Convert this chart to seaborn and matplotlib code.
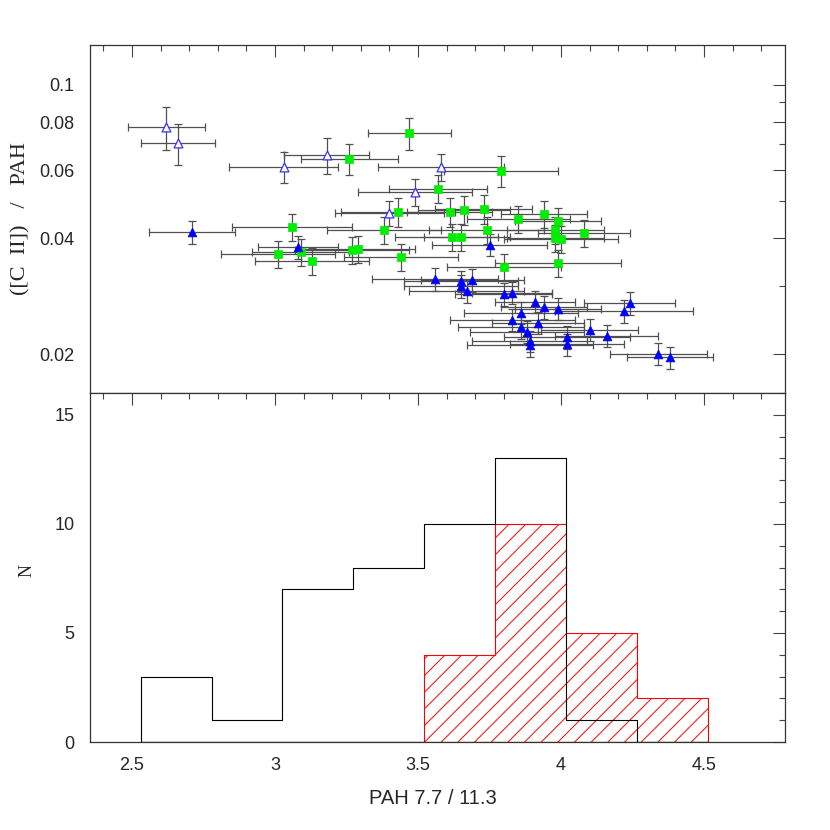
import numpy as np
import pandas as pd
import matplotlib
matplotlib.use("Agg")
import matplotlib.pyplot as plt
from matplotlib.ticker import NullFormatter, FixedLocator
import seaborn as sns

# open triangles
open_x = [2.62, 2.66, 3.03, 3.18, 3.58, 3.49, 3.40]
open_y = [0.0777, 0.0706, 0.0612, 0.0657, 0.0612, 0.0527, 0.0465]
open_xerr = [0.135, 0.13, 0.19, 0.15, 0.22, 0.20, 0.19]
open_yerr = [0.0100, 0.0086, 0.0057, 0.0071, 0.0050, 0.0042, 0.0035]

# filled triangles
fill_x = [2.71, 3.08, 3.75, 3.56, 3.65, 3.69, 3.65, 3.67, 3.80, 3.83, 3.91, 3.94, 3.99, 4.24,
          4.22, 3.86, 3.83, 3.92, 3.86, 3.88, 3.89, 3.89, 4.02, 4.02, 4.10, 4.16, 4.34, 4.38]
fill_y = [0.0415, 0.0379, 0.0384, 0.0313, 0.0309, 0.0311, 0.0300, 0.0292, 0.0286, 0.0288, 0.0273,
          0.0265, 0.0262, 0.0271, 0.0259, 0.0256, 0.0245, 0.0241, 0.0235, 0.0228, 0.0216, 0.0211,
          0.0221, 0.0212, 0.0231, 0.0223, 0.0200, 0.0196]
fill_xerr = [0.15, 0.14, 0.20, 0.22, 0.20, 0.18, 0.20, 0.20, 0.17, 0.14, 0.14, 0.15, 0.15, 0.16,
             0.24, 0.20, 0.22, 0.16, 0.22, 0.20, 0.20, 0.22, 0.22, 0.20, 0.17, 0.18, 0.17, 0.15]
fill_yerr = [0.0029, 0.0027, 0.0025, 0.0022, 0.0020, 0.0021, 0.0020, 0.0020, 0.0019, 0.0019, 0.0018,
             0.0018, 0.0017, 0.0018, 0.0018, 0.0017, 0.0016, 0.0016, 0.0016, 0.0015, 0.0014, 0.0014,
             0.0015, 0.0014, 0.0015, 0.0015, 0.0013, 0.0013]

# green squares
green_x = [3.47, 3.26, 3.79, 3.57, 3.43, 3.61, 3.66, 3.73, 3.85, 3.94, 3.99, 3.38, 3.62, 3.65,
           3.74, 3.98, 3.98, 4.00, 4.08, 3.06, 3.01, 3.09, 3.13, 3.27, 3.29, 3.44, 3.80, 3.99]
green_y = [0.0750, 0.0642, 0.0598, 0.0537, 0.0468, 0.0468, 0.0473, 0.0476, 0.0448, 0.0462, 0.0443,
           0.0420, 0.0403, 0.0403, 0.0420, 0.0420, 0.0400, 0.0398, 0.0412, 0.0427, 0.0364, 0.0368,
           0.0349, 0.0373, 0.0375, 0.0357, 0.0337, 0.0345]
green_xerr = [0.145, 0.17, 0.20, 0.17, 0.20, 0.15, 0.16, 0.17, 0.18, 0.15, 0.15, 0.20, 0.20, 0.13,
              0.20, 0.17, 0.17, 0.20, 0.16, 0.21, 0.20, 0.17, 0.20, 0.20, 0.20, 0.20, 0.20, 0.22]
green_yerr = [0.0072, 0.0058, 0.0055, 0.0045, 0.0040, 0.0040, 0.0040, 0.0040, 0.0036, 0.0038, 0.0036,
              0.0035, 0.0032, 0.0032, 0.0034, 0.0034, 0.0032, 0.0032, 0.0033, 0.0035, 0.0029, 0.0030,
              0.0028, 0.0030, 0.0030, 0.0029, 0.0027, 0.0028]

# histograms
bin_edges = [2.53, 2.778, 3.026, 3.274, 3.522, 3.77, 4.018, 4.266, 4.514]
all_counts = [3, 1, 7, 8, 10, 13, 1, 0]
red_counts = [0, 0, 0, 0, 4, 10, 5, 2]

x_ticks = [2.5, 3, 3.5, 4, 4.5]
x_tick_labels = ["2.5", "3", "3.5", "4", "4.5"]
y_ticks_top = [0.02, 0.04, 0.06, 0.08, 0.1]
y_tick_labels_top = ["0.02", "0.04", "0.06", "0.08", "0.1"]
y_ticks_bot = [0, 5, 10, 15]


def style_axis(ax):
    """inward ticks on all four sides"""
    ax.tick_params(which="both", direction="in", top=True, right=True,
                   color="#444444", width=0.8, labelsize=13, pad=11)
    ax.tick_params(which="major", length=8.6)
    ax.tick_params(which="minor", length=4.3)
    for spine in ax.spines.values():
        spine.set_color("#333333")
        spine.set_linewidth(0.9)
    for lab in ax.get_xticklabels() + ax.get_yticklabels():
        lab.set_family("Liberation Sans")


sns.set_style("white")
plt.rcParams["font.family"] = ["Liberation Sans", "DejaVu Sans"]
plt.rcParams["hatch.linewidth"] = 0.7

fig = plt.figure(figsize=(8.3, 8.3), dpi=100)
ax1 = fig.add_axes([0.1084, 0.5265, 0.8374, 0.4193])
ax2 = fig.add_axes([0.1084, 0.106, 0.8374, 0.4205], sharex=ax1)

# --- top panel: scatter with error bars
err_kw = dict(fmt="none", ecolor="#505050", elinewidth=0.9, capsize=3, capthick=0.9, zorder=1)
ax1.errorbar(open_x, open_y, xerr=open_xerr, yerr=open_yerr, **err_kw)
ax1.errorbar(fill_x, fill_y, xerr=fill_xerr, yerr=fill_yerr, **err_kw)
ax1.errorbar(green_x, green_y, xerr=green_xerr, yerr=green_yerr, **err_kw)

sns.scatterplot(x=green_x, y=green_y, marker="s", color="#00ee00", edgecolor="#00ee00",
                s=32, linewidth=0.5, ax=ax1, zorder=3)
sns.scatterplot(x=fill_x, y=fill_y, marker="^", color="#0000ff", edgecolor="#0000ff",
                s=40, linewidth=0.5, ax=ax1, zorder=3)
sns.scatterplot(x=open_x, y=open_y, marker="^", facecolor="white", edgecolor="#3333ff",
                s=40, linewidth=0.9, ax=ax1, zorder=3)

ax1.set_yscale("log")
ax1.set_xlim(2.353, 4.783)
ax1.set_ylim(0.01584, 0.1269)
ax1.yaxis.set_major_locator(FixedLocator(y_ticks_top))
ax1.yaxis.set_minor_locator(FixedLocator([0.03, 0.05, 0.07, 0.09]))
ax1.set_yticklabels(y_tick_labels_top)
ax1.yaxis.set_minor_formatter(NullFormatter())
ax1.set_xticks(x_ticks)
ax1.xaxis.set_minor_locator(FixedLocator(np.arange(2.4, 4.81, 0.1)))
ax1.tick_params(labelbottom=False)
ax1.set_ylabel("([C  II])   /   PAH", family="Liberation Serif", fontsize=16)
ax1.yaxis.set_label_coords(-0.085, 0.5)
style_axis(ax1)

# --- bottom panel: histograms
centers = [(a + b) / 2 for a, b in zip(bin_edges[:-1], bin_edges[1:])]
hist_df = pd.DataFrame({"x": centers, "all": all_counts, "red": red_counts})
sns.histplot(data=hist_df, x="x", weights="red", bins=bin_edges, element="step",
             fill=True, color="red", ax=ax2, linewidth=0.8)
sns.histplot(data=hist_df, x="x", weights="all", bins=bin_edges, element="step",
             fill=True, color="black", ax=ax2, linewidth=0.8)
colls = ax2.collections
colls[0].set_facecolor("none")
colls[0].set_edgecolor("red")
colls[0].set_hatch("//")
colls[1].set_facecolor("none")
colls[1].set_edgecolor("black")
colls[1].set_zorder(2)

ax2.set_ylim(0, 16)
ax2.set_yticks(y_ticks_bot)
ax2.yaxis.set_minor_locator(FixedLocator(np.arange(0, 16.1, 1)))
ax2.set_xticks(x_ticks)
ax2.set_xticklabels(x_tick_labels)
ax2.xaxis.set_minor_locator(FixedLocator(np.arange(2.4, 4.81, 0.1)))
ax2.set_xlim(2.353, 4.783)
ax2.set_ylabel("N", family="Liberation Serif", fontsize=13)
ax2.yaxis.set_label_coords(-0.078, 0.49)
ax2.set_xlabel("PAH 7.7 / 11.3", fontsize=14.5)
ax2.xaxis.set_label_coords(0.493, -0.135)
style_axis(ax2)

fig.savefig("out.png", dpi=100)
plt.close()
